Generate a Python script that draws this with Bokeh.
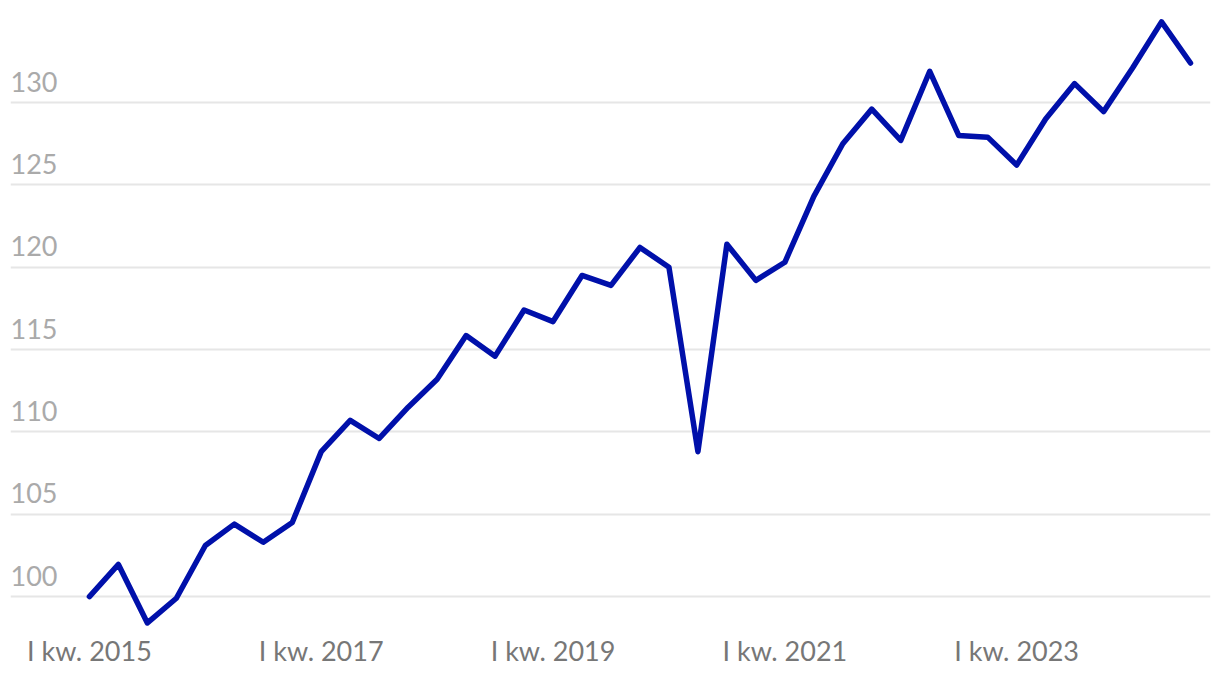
from bokeh.plotting import figure
from bokeh.models import FixedTicker, Range1d, Label, ColumnDataSource
from bokeh.embed import file_html
from bokeh.resources import INLINE

values = [100.0, 101.95, 98.4, 99.9, 103.1, 104.4, 103.3, 104.5, 108.8, 110.7,
          109.6, 111.5, 113.2, 115.85, 114.6, 117.4, 116.7, 119.5, 118.9, 121.2,
          120.0, 108.8, 121.4, 119.2, 120.3, 124.3, 127.5, 129.6, 127.7, 131.9,
          128.0, 127.9, 126.2, 129.0, 131.15, 129.45, 132.1, 134.9, 132.4]
quarters = list(range(len(values)))
x_tick_pos = [0, 8, 16, 24, 32]
x_tick_labels = ["I kw. 2015", "I kw. 2017", "I kw. 2019", "I kw. 2021", "I kw. 2023"]
y_ticks = [100, 105, 110, 115, 120, 125, 130]

FONT = "Lato"

p = figure(width=1212, height=669, output_backend="svg", toolbar_location=None,
           x_range=Range1d(-2.724, 38.69), y_range=Range1d(97.94, 135.59),
           min_border_left=10, min_border_right=2, min_border_top=10, min_border_bottom=0)
p.outline_line_color = None
p.background_fill_color = "white"
p.border_fill_color = "white"

src = ColumnDataSource(dict(x=quarters, y=values))
p.line("x", "y", source=src, line_color="#0010aa", line_width=5.5,
       line_join="round", line_cap="round")

p.yaxis.visible = False
p.ygrid.ticker = FixedTicker(ticks=y_ticks)
p.ygrid.grid_line_color = "#e6e6e6"
p.ygrid.grid_line_width = 2
p.xgrid.grid_line_color = None

xa = p.xaxis[0]
xa.ticker = FixedTicker(ticks=x_tick_pos)
xa.major_label_overrides = {t: l for t, l in zip(x_tick_pos, x_tick_labels)}
xa.axis_line_color = None
xa.major_tick_line_color = None
xa.minor_tick_line_color = None
xa.major_label_text_font = FONT
xa.major_label_text_font_size = "27px"
xa.major_label_text_color = "#777777"
xa.major_label_standoff = -3

for t in y_ticks:
    p.add_layout(Label(x=0, x_units="screen", y=t, y_units="data", text=str(t),
                       text_font=FONT, text_font_size="27px", text_color="#aaaaaa",
                       text_baseline="alphabetic", text_align="left", y_offset=21))

open("out.html", "w").write(file_html(p, INLINE))
